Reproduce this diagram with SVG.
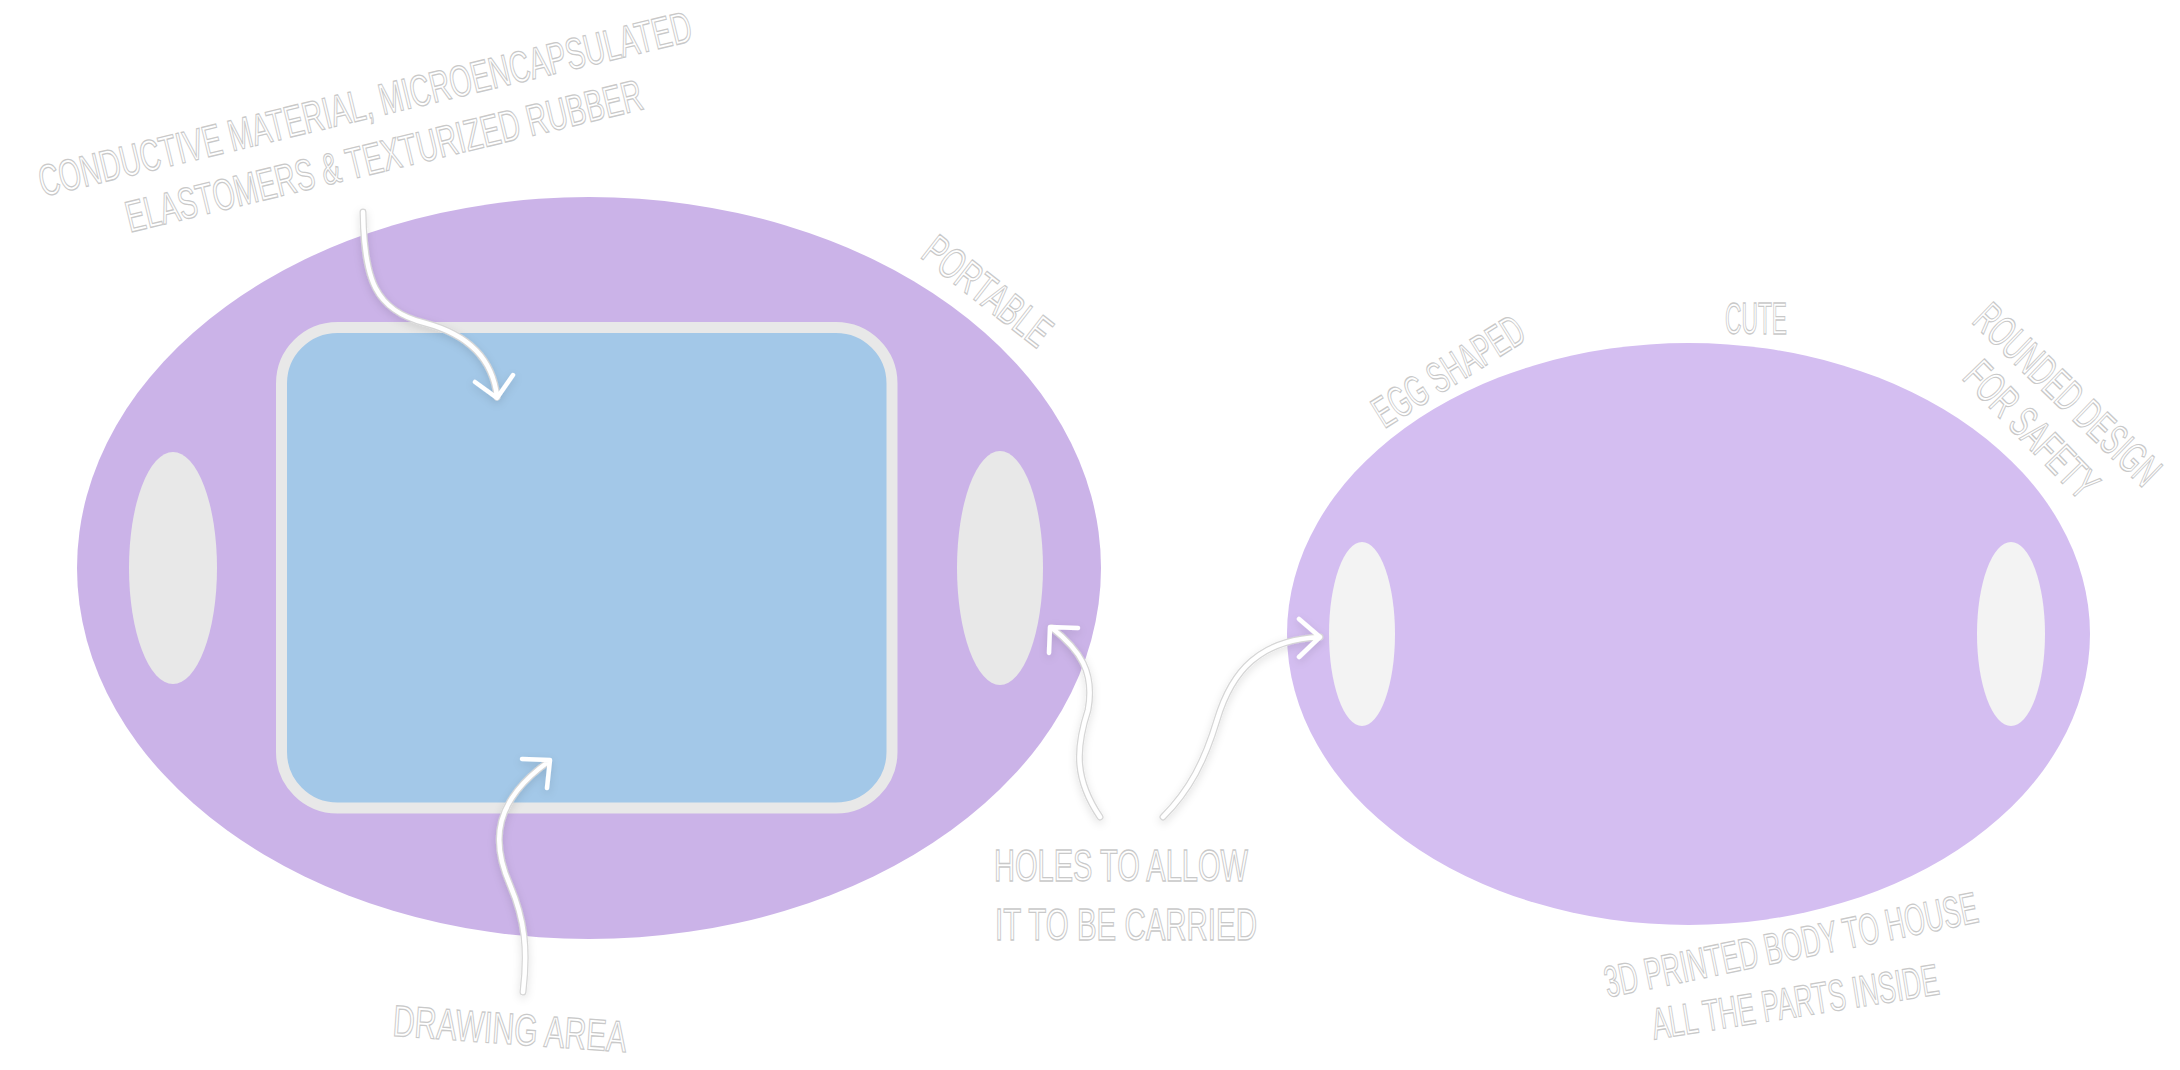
<svg xmlns="http://www.w3.org/2000/svg" width="2180" height="1070" viewBox="0 0 2180 1070">
<defs>
<style>
.lbl{font-family:"Liberation Sans Narrow","Liberation Sans",Arial,sans-serif;font-size:44px;fill:#ffffff;stroke:#c9c9c9;stroke-width:1.3px}
.out{fill:none;stroke:#d6d6d6;stroke-width:7;stroke-linecap:round;stroke-linejoin:round}
.lin{fill:none;stroke:#ffffff;stroke-width:4.5;stroke-linecap:round;stroke-linejoin:round}
</style>
<filter id="sh" x="-20%" y="-20%" width="140%" height="140%">
<feDropShadow dx="0" dy="3" stdDeviation="4" flood-color="#000" flood-opacity="0.12"/>
</filter>
</defs>
<rect width="2180" height="1070" fill="#ffffff"/>

<g id="device-left">
<ellipse cx="589" cy="568" rx="512" ry="371" fill="#cbb3e8"/>
<ellipse cx="173" cy="568" rx="44" ry="116" fill="#e8e8e8"/>
<ellipse cx="1000" cy="568" rx="43" ry="117" fill="#e8e8e8"/>
</g>
<g id="drawing-area">
<rect x="281.5" y="327.5" width="610.5" height="480.5" rx="56" ry="56" fill="#a3c8e8" stroke="#e8e8e8" stroke-width="11"/>
</g>
<g id="device-right">
<ellipse cx="1688.5" cy="634" rx="401.5" ry="291" fill="#d4bef1"/>
<ellipse cx="1362" cy="634" rx="33" ry="92" fill="#f3f3f3"/>
<ellipse cx="2011" cy="634" rx="34" ry="92" fill="#f3f3f3"/>
</g>

<g id="connectors" filter="url(#sh)">
<path class="out" d="M363,212 C364,280 375,310 425,323 C470,335 493,360 497,397"/>
<path class="lin" d="M363,212 C364,280 375,310 425,323 C470,335 493,360 497,397 M475,382 L497,398 L513,375"/>
<path class="out" d="M523,992 C528,950 525,920 510,885 C490,840 495,800 548,762"/>
<path class="lin" d="M523,992 C528,950 525,920 510,885 C490,840 495,800 548,762 M522,759 L550,760 L547,788"/>
<path class="out" d="M1100,817 C1075,780 1075,750 1088,710 C1095,672 1080,650 1052,628"/>
<path class="lin" d="M1100,817 C1075,780 1075,750 1088,710 C1095,672 1080,650 1052,628 M1078,628 L1050,627 L1049,653"/>
<path class="out" d="M1163,817 C1190,790 1205,760 1217,720 C1232,670 1260,640 1320,637"/>
<path class="lin" d="M1163,817 C1190,790 1205,760 1217,720 C1232,670 1260,640 1320,637 M1299,619 L1320,637 L1299,657"/>
</g>

<g id="label-material">
<text class="lbl" x="365" y="119" text-anchor="middle" font-size="41" textLength="670" lengthAdjust="spacingAndGlyphs" transform="rotate(-13.5 365 104)">CONDUCTIVE MATERIAL, MICROENCAPSULATED</text>
<text class="lbl" x="384" y="171" text-anchor="middle" font-size="41" textLength="530" lengthAdjust="spacingAndGlyphs" transform="rotate(-13.5 384 156)">ELASTOMERS &amp; TEXTURIZED RUBBER</text>
</g>
<g id="label-portable">
<text class="lbl" x="987" y="306" text-anchor="middle" textLength="150" lengthAdjust="spacingAndGlyphs" font-size="38" transform="rotate(38 987 292)">PORTABLE</text>
</g>
<g id="label-egg">
<text class="lbl" x="1449" y="386" text-anchor="middle" textLength="170" lengthAdjust="spacingAndGlyphs" font-size="38" transform="rotate(-32 1449 372)">EGG SHAPED</text>
</g>
<g id="label-cute">
<text class="lbl" x="1756" y="334" text-anchor="middle" textLength="62" lengthAdjust="spacingAndGlyphs">CUTE</text>
</g>
<g id="label-rounded">
<text class="lbl" x="2066" y="409" text-anchor="middle" textLength="240" lengthAdjust="spacingAndGlyphs" font-size="36" transform="rotate(44 2066 396)">ROUNDED DESIGN</text>
<text class="lbl" x="2030" y="444" text-anchor="middle" textLength="172" lengthAdjust="spacingAndGlyphs" font-size="36" transform="rotate(46 2030 431)">FOR SAFETY</text>
</g>
<g id="label-holes">
<text class="lbl" x="994" y="881" textLength="254" lengthAdjust="spacingAndGlyphs">HOLES TO ALLOW</text>
<text class="lbl" x="995" y="940" textLength="262" lengthAdjust="spacingAndGlyphs">IT TO BE CARRIED</text>
</g>
<g id="label-drawing">
<text class="lbl" x="510" y="1044" text-anchor="middle" textLength="234" lengthAdjust="spacingAndGlyphs" transform="rotate(4 510 1027)">DRAWING AREA</text>
</g>
<g id="label-body">
<text class="lbl" x="1791" y="960" text-anchor="middle" font-size="40" textLength="380" lengthAdjust="spacingAndGlyphs" transform="rotate(-11.5 1791 945)">3D PRINTED BODY TO HOUSE</text>
<text class="lbl" x="1795" y="1017" text-anchor="middle" font-size="40" textLength="290" lengthAdjust="spacingAndGlyphs" transform="rotate(-9 1795 1002)">ALL THE PARTS INSIDE</text>
</g>
</svg>
